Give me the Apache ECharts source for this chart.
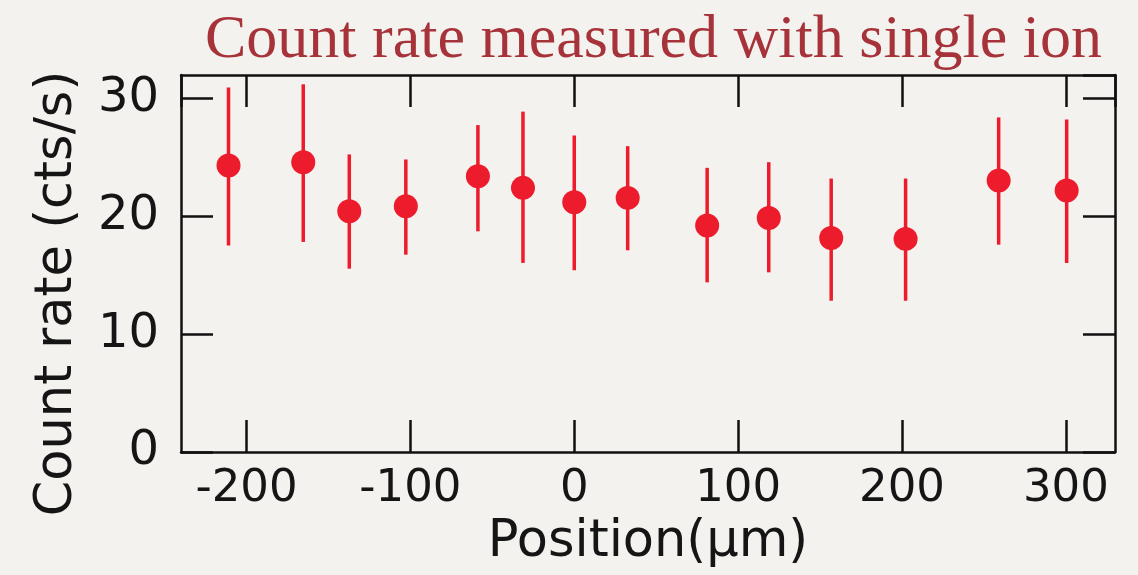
<!DOCTYPE html>
<html>
<head>
<meta charset="utf-8">
<script src="https://cdn.jsdelivr.net/npm/echarts@6/dist/echarts.min.js"></script>
<style>
html,body{margin:0;padding:0;background:#F4F2EF;}
#chart{width:1138px;height:575px;}
</style>
</head>
<body>
<div id="chart"></div>
<script>
// Data
const positions = [-211, -165.4, -137.3, -102.8, -58.8, -31.3, 0, 32.6, 81.1, 118.7, 156.8, 202.2, 259, 300.5];
const rates     = [24.32, 24.60, 20.43, 20.86, 23.41, 22.42, 21.20, 21.57, 19.22, 19.87, 18.17, 18.09, 23.04, 22.19];
const rateHigh  = [30.93, 31.21, 25.26, 24.83, 27.75, 28.89, 26.87, 25.96, 24.12, 24.60, 23.21, 23.21, 28.40, 28.23];
const rateLow   = [17.52, 17.83, 15.56, 16.75, 18.73, 16.05, 15.42, 17.12, 14.40, 15.25, 12.84, 12.84, 17.60, 16.05];

const titleText = 'Count rate measured with single ion';
const xName = 'Position(µm)';
const yName = 'Count rate (cts/s)';

const points = positions.map((x, i) => [x, rates[i]]);
const bars = positions.map((x, i) => [x, rateLow[i], rateHigh[i]]);

const red = '#EC1C2C';
const axisCol = '#111111';

const chart = echarts.init(document.getElementById('chart'), null, { renderer: 'canvas' });
chart.setOption({
  backgroundColor: '#F4F2EF',
  animation: false,
  title: {
    text: titleText,
    left: 200, top: 5,
    textStyle: { fontFamily: 'Liberation Serif', fontWeight: 'normal', fontSize: 62, color: '#A7333A' }
  },
  grid: { left: 181, right: 23, top: 75, bottom: 123, containLabel: false },
  xAxis: [{
    type: 'value', min: -240, max: 330, splitNumber: 5,
    name: xName, nameLocation: 'middle', nameGap: 63,
    nameTextStyle: { fontFamily: 'DejaVu Sans', fontSize: 51, color: '#151515' },
    axisLine: { show: true, onZero: false, lineStyle: { color: axisCol, width: 2.5 } },
    axisTick: { show: true, inside: true, length: 32, lineStyle: { color: axisCol, width: 2.5 } },
    axisLabel: { margin: 15, showMinLabel: false, showMaxLabel: false, fontFamily: 'DejaVu Sans', fontSize: 45, color: '#151515' },
    splitLine: { show: false }
  }, {
    type: 'value', position: 'top', min: -240, max: 330, splitNumber: 5,
    axisLine: { show: true, onZero: false, lineStyle: { color: axisCol, width: 2.5 } },
    axisTick: { show: true, inside: true, length: 32, lineStyle: { color: axisCol, width: 2.5 } },
    axisLabel: { show: false }, splitLine: { show: false }
  }],
  yAxis: [{
    type: 'value', min: 0, max: 32, interval: 10,
    name: yName, nameLocation: 'middle', nameGap: 98, nameRotate: 90,
    nameTextStyle: { fontFamily: 'DejaVu Sans', fontSize: 51, color: '#151515', padding: [0, 60, 0, 0] },
    axisLine: { show: true, onZero: false, lineStyle: { color: axisCol, width: 2.5 } },
    axisTick: { show: true, inside: true, length: 32, lineStyle: { color: axisCol, width: 2.5 } },
    axisLabel: { margin: 22, showMaxLabel: false, fontFamily: 'DejaVu Sans', fontSize: 48, color: '#151515' },
    splitLine: { show: false }
  }, {
    type: 'value', position: 'right', min: 0, max: 32, interval: 10,
    axisLine: { show: true, onZero: false, lineStyle: { color: axisCol, width: 2.5 } },
    axisTick: { show: true, inside: true, length: 32, lineStyle: { color: axisCol, width: 2.5 } },
    axisLabel: { show: false }, splitLine: { show: false }
  }],
  series: [{
    type: 'custom',
    data: bars,
    renderItem: function (params, api) {
      const x = api.value(0);
      const lo = api.coord([x, api.value(1)]);
      const hi = api.coord([x, api.value(2)]);
      return {
        type: 'line',
        shape: { x1: lo[0], y1: lo[1], x2: hi[0], y2: hi[1] },
        style: { stroke: red, lineWidth: 3.5 }
      };
    },
    z: 2
  }, {
    type: 'scatter',
    data: points,
    symbol: 'circle',
    symbolSize: 24,
    itemStyle: { color: red, opacity: 1 },
    z: 3
  }]
});
</script>
</body>
</html>
